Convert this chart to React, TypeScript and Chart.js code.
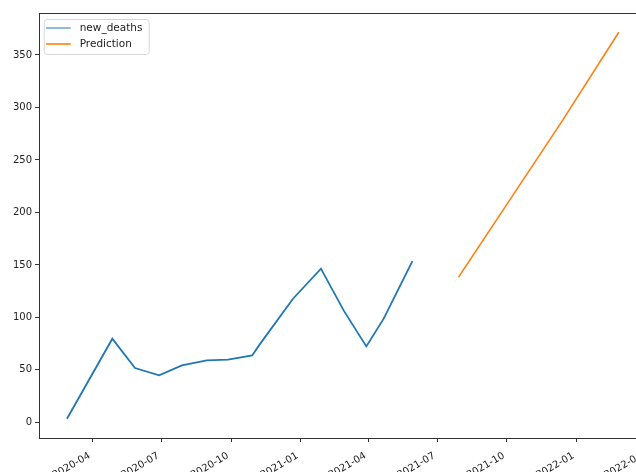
import React, { useEffect, useRef } from "react";
import { Chart, registerables } from "chart.js";

Chart.register(...registerables);

const deathDates = [
  "2020-02-27", "2020-04-27", "2020-05-27", "2020-06-28", "2020-07-28",
  "2020-08-30", "2020-09-27", "2020-10-29", "2020-11-08", "2020-12-22",
  "2021-01-28", "2021-02-27", "2021-03-29", "2021-04-21", "2021-05-29",
];
const deathValues = [3.5, 79.7, 51.7, 44.8, 54.3, 59, 59.7, 63.8, 74.3, 117.8, 146.4, 106.7, 72.4, 98.8, 153.6];

const predDates = ["2021-07-29", "2021-12-13", "2022-02-26"];
const predValues = [138.4, 287, 371.7];

const xTickDates = [
  "2020-04-01", "2020-07-01", "2020-10-01", "2021-01-01", "2021-04-01",
  "2021-07-01", "2021-10-01", "2022-01-01", "2022-04-01",
];
const xTickLabels = ["2020-04", "2020-07", "2020-10", "2021-01", "2021-04", "2021-07", "2021-10", "2022-01", "2022-04"];
const yTicks = [0, 50, 100, 150, 200, 250, 300, 350];

const X_MIN = "2020-01-21";
const X_MAX = "2022-04-03";
const Y_MIN = -14.9;
const Y_MAX = 390;

const ts = (d: string) => Date.parse(d + "T00:00:00Z");

const FONT = "'DejaVu Sans', sans-serif";

const framePlugin = {
  id: "frame",
  afterDraw(chart: any) {
    const { ctx, chartArea } = chart;
    const { left, top, right, bottom } = chartArea;
    ctx.save();
    ctx.strokeStyle = "#333";
    ctx.lineWidth = 1;
    ctx.strokeRect(Math.round(left) + 0.5, Math.round(top) + 0.5, Math.round(right - left), Math.round(bottom - top));
    // legend
    const bx = left + 4.7;
    const by = top + 6;
    const bw = 105;
    const bh = 35;
    ctx.beginPath();
    ctx.roundRect(bx + 0.5, by + 0.5, bw, bh, 3);
    ctx.fillStyle = "rgba(255,255,255,0.8)";
    ctx.fill();
    ctx.strokeStyle = "#d6d6d6";
    ctx.lineWidth = 1;
    ctx.stroke();
    const widths = [1, 1.6];
    chart.data.datasets.forEach((ds: any, i: number) => {
      const y = top + 15 + i * 16;
      ctx.beginPath();
      ctx.strokeStyle = ds.borderColor;
      ctx.lineWidth = widths[i];
      ctx.moveTo(left + 7, y);
      ctx.lineTo(left + 31.7, y);
      ctx.stroke();
      ctx.fillStyle = "#222";
      ctx.font = `10.5px ${FONT}`;
      ctx.textBaseline = "middle";
      ctx.textAlign = "left";
      ctx.fillText(ds.label, left + 40.7, y + 0.5);
    });
    ctx.restore();
  },
};

export default function App() {
  const ref = useRef<HTMLCanvasElement>(null);
  useEffect(() => {
    if (!ref.current) return;
    const chart = new Chart(ref.current, {
      type: "line",
      data: {
        datasets: [
          {
            label: "new_deaths",
            data: deathDates.map((d, i) => ({ x: ts(d), y: deathValues[i] })),
            borderColor: "#1f77b4",
            borderWidth: 1.8,
            pointRadius: 0,
            tension: 0,
          },
          {
            label: "Prediction",
            data: predDates.map((d, i) => ({ x: ts(d), y: predValues[i] })),
            borderColor: "#ff7f0e",
            borderWidth: 1.6,
            pointRadius: 0,
            tension: 0,
          },
        ],
      },
      options: {
        animation: false,
        responsive: false,
        devicePixelRatio: 1,
        layout: { padding: { top: 13, right: 14, left: 0, bottom: 0 } },
        plugins: { legend: { display: false }, tooltip: { enabled: false } },
        scales: {
          x: {
            type: "linear",
            min: ts(X_MIN),
            max: ts(X_MAX),
            border: { display: false },
            grid: { drawOnChartArea: false, drawTicks: true, tickLength: 4, color: "#333" },
            afterBuildTicks: (scale: any) => {
              scale.ticks = xTickDates.map((d) => ({ value: ts(d) }));
            },
            afterFit: (scale: any) => {
              scale.height = 34;
              scale.paddingLeft = 0;
              scale.paddingRight = 0;
            },
            ticks: {
              autoSkip: false,
              minRotation: 30,
              maxRotation: 30,
              padding: 8,
              labelOffset: -3,
              color: "#222",
              font: { family: FONT, size: 10 },
              callback: (_v: any, i: number) => xTickLabels[i],
            },
          },
          y: {
            type: "linear",
            min: Y_MIN,
            max: Y_MAX,
            border: { display: false },
            grid: { drawOnChartArea: false, drawTicks: true, tickLength: 4, color: "#333" },
            afterBuildTicks: (scale: any) => {
              scale.ticks = yTicks.map((v) => ({ value: v }));
            },
            afterFit: (scale: any) => {
              scale.width = 39;
            },
            ticks: {
              padding: 3,
              color: "#222",
              font: { family: FONT, size: 10 },
              callback: (v: any) => String(v),
            },
          },
        },
      },
      plugins: [framePlugin],
    });
    return () => chart.destroy();
  }, []);
  return (
    <div style={{ position: "fixed", left: 0, top: 0, width: 636, height: 472, overflow: "hidden", background: "#fff" }}>
      <canvas ref={ref} width={660} height={472} style={{ display: "block" }} />
    </div>
  );
}
